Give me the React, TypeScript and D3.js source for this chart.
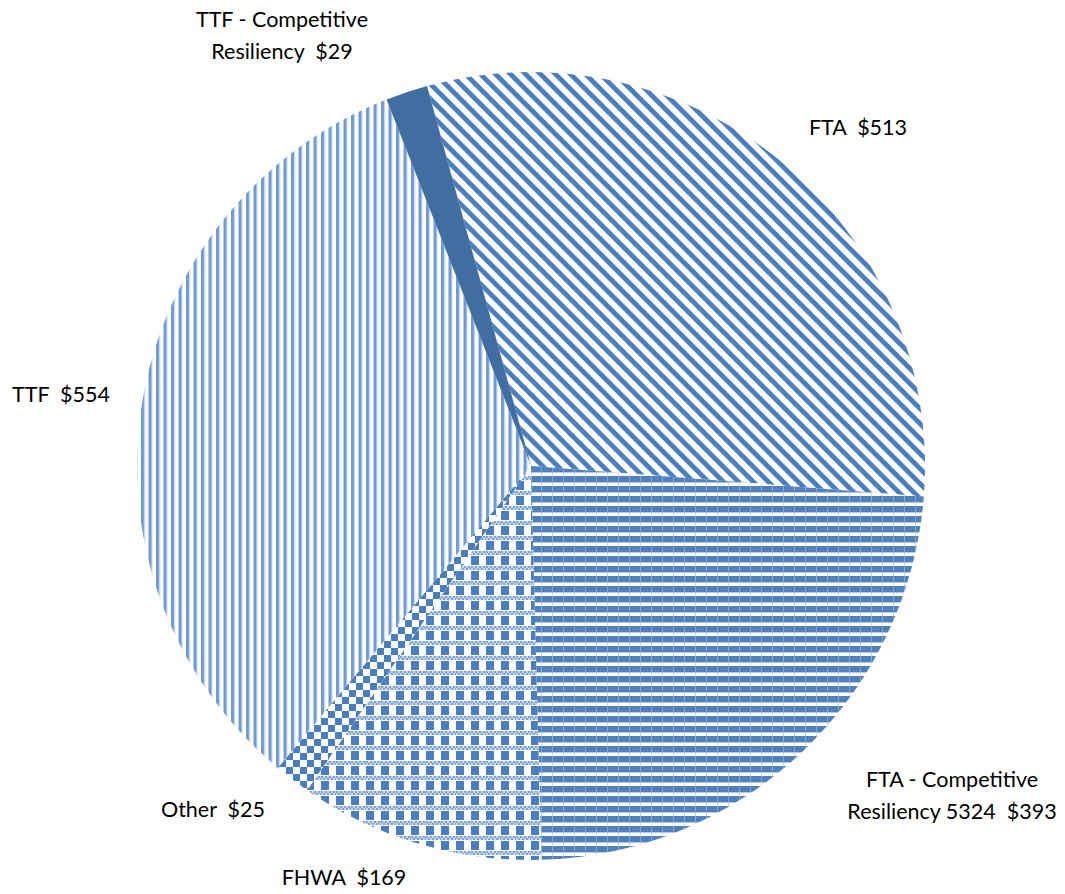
import React, { useEffect, useRef } from 'react';
import * as d3 from 'd3';

const categories = ['FTA', 'FTA - Competitive Resiliency 5324', 'FHWA', 'Other', 'TTF', 'TTF - Competitive Resiliency'];
const values = [513, 393, 169, 25, 554, 29];
const patternIds = ['pFta', 'pFtaCr', 'pFhwa', 'pOther', 'pTtf', 'pTtfCr'];

// label lines as they appear on the chart
const labelLines = [
  ['FTA  $513'],
  ['FTA - Competitive', 'Resiliency 5324  $393'],
  ['FHWA  $169'],
  ['Other  $25'],
  ['TTF  $554'],
  ['TTF - Competitive', 'Resiliency  $29'],
];
// centre of each label block (x, y of first line)
const labelPos: [number, number][] = [
  [858, 128],
  [952, 780],
  [344, 878],
  [213, 810],
  [61, 395],
  [282, 20],
];

export default function App() {
  const svgRef = useRef<SVGSVGElement>(null);

  useEffect(() => {
    if (!svgRef.current) return;
    const width = 1065;
    const height = 894;
    const cx = 531;
    const cy = 466;
    const r = 394;
    const blue = '#4f81bd';

    const svg = d3.select(svgRef.current);
    svg.selectAll('*').remove();
    svg.attr('width', width).attr('height', height);

    const defs = svg.append('defs');

    // FTA: wide downward diagonal
    const p0 = defs.append('pattern').attr('id', 'pFta').attr('patternUnits', 'userSpaceOnUse')
      .attr('width', 10.6).attr('height', 10.6).attr('patternTransform', 'rotate(45)');
    p0.append('rect').attr('width', 10.6).attr('height', 10.6).attr('fill', '#fff');
    p0.append('rect').attr('width', 10.6).attr('height', 4.8).attr('fill', '#4a7ec0');

    // FTA-CR: horizontal lines
    const p1 = defs.append('pattern').attr('id', 'pFtaCr').attr('patternUnits', 'userSpaceOnUse')
      .attr('width', 11).attr('height', 10);
    p1.append('rect').attr('width', 11).attr('height', 10).attr('fill', '#fff');
    p1.append('rect').attr('y', 0).attr('width', 11).attr('height', 6).attr('fill', blue);
    p1.append('rect').attr('y', 6).attr('width', 11).attr('height', 1).attr('fill', '#b3c8e4');
    p1.append('rect').attr('x', 10).attr('width', 1).attr('height', 10).attr('fill', '#a9c1e0').attr('opacity', 0.6);

    // FHWA: blocks with small checker rows
    const p2 = defs.append('pattern').attr('id', 'pFhwa').attr('patternUnits', 'userSpaceOnUse')
      .attr('width', 15).attr('height', 15);
    p2.append('rect').attr('width', 15).attr('height', 15).attr('fill', '#fff');
    p2.append('rect').attr('x', 0).attr('y', 0).attr('width', 8).attr('height', 9).attr('fill', '#4a7ec0');
    for (let i = 0; i < 8; i++) {
      p2.append('rect').attr('x', i * 2).attr('y', 10 + (i % 2) * 2).attr('width', 2).attr('height', 2).attr('fill', '#7ea3d3');
      p2.append('rect').attr('x', i * 2).attr('y', 12 - (i % 2) * 2).attr('width', 2).attr('height', 2).attr('fill', '#c6d6ec');
    }

    // Other: checkerboard
    const p3 = defs.append('pattern').attr('id', 'pOther').attr('patternUnits', 'userSpaceOnUse')
      .attr('width', 14).attr('height', 14);
    p3.append('rect').attr('width', 14).attr('height', 14).attr('fill', '#fff');
    p3.append('rect').attr('width', 7).attr('height', 7).attr('fill', '#4a7ec0');
    p3.append('rect').attr('x', 7).attr('y', 7).attr('width', 7).attr('height', 7).attr('fill', '#4a7ec0');

    // TTF: vertical lines
    const p4 = defs.append('pattern').attr('id', 'pTtf').attr('patternUnits', 'userSpaceOnUse')
      .attr('width', 7.5).attr('height', 10);
    p4.append('rect').attr('width', 7.5).attr('height', 10).attr('fill', '#fff');
    p4.append('rect').attr('x', 0).attr('width', 3).attr('height', 10).attr('fill', '#6f9bd2');
    p4.append('rect').attr('x', 3).attr('width', 1).attr('height', 10).attr('fill', '#b7cde9');

    // TTF-CR: solid
    const p5 = defs.append('pattern').attr('id', 'pTtfCr').attr('patternUnits', 'userSpaceOnUse')
      .attr('width', 10).attr('height', 10);
    p5.append('rect').attr('width', 10).attr('height', 10).attr('fill', '#416ea0');

    const start = (-15.3 * Math.PI) / 180;
    const pie = d3.pie<number>().sort(null).value(d => d)
      .startAngle(start).endAngle(start + 2 * Math.PI);
    const arc = d3.arc<d3.PieArcDatum<number>>().innerRadius(0).outerRadius(r);

    const g = svg.append('g').attr('transform', `translate(${cx},${cy})`);
    g.selectAll('path')
      .data(pie(values))
      .join('path')
      .attr('d', arc)
      .attr('fill', (_, i) => `url(#${patternIds[i]})`);

    // labels
    const lg = svg.append('g')
      .style('font-family', 'Lato, "Open Sans", sans-serif')
      .style('font-size', '21.5px')
      .style('white-space', 'pre')
      .style('fill', '#000');
    categories.forEach((c, i) => {
      const [x, y] = labelPos[i];
      const t = lg.append('text').attr('text-anchor', 'middle').attr('xml:space', 'preserve').attr('data-name', c);
      labelLines[i].forEach((line, j) => {
        t.append('tspan').attr('x', x).attr('y', y + 7 + j * 32).text(line);
      });
    });
  }, []);

  return (
    <div style={{ position: 'absolute', left: 0, top: 0, background: '#fff' }}>
      <svg ref={svgRef}></svg>
    </div>
  );
}
